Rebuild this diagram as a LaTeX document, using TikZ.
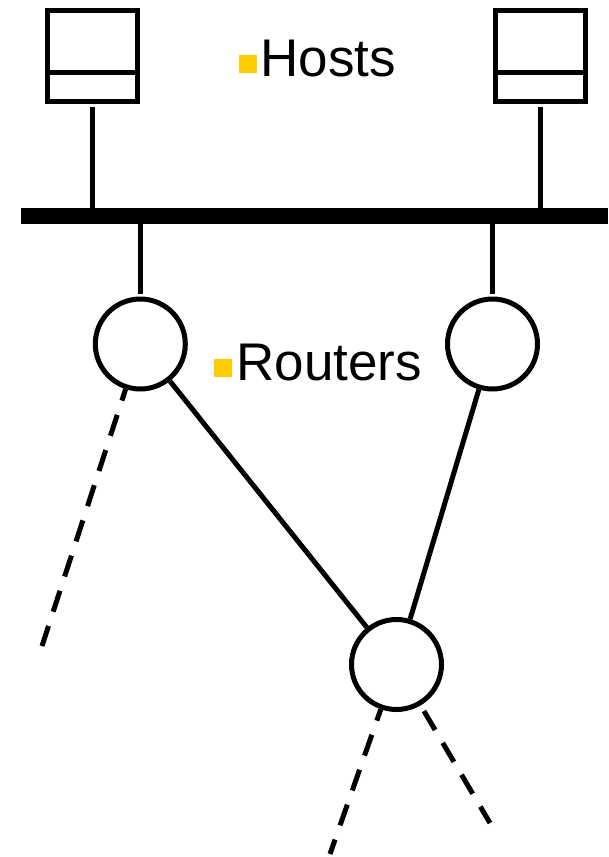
\documentclass[tikz,border=0pt]{standalone}
\usepackage{fontspec}
\setmainfont{Liberation Sans}
\definecolor{bulletyellow}{HTML}{FFCC00}
\begin{document}
\begin{tikzpicture}[x=1pt,y=-1pt,line width=5pt,
  host/.style={draw, minimum width=90pt, minimum height=91pt, inner sep=0pt},
  router/.style={draw, circle, fill=white, minimum size=90pt, inner sep=0pt},
  lan/.style={fill=black, inner sep=0pt, outer sep=0pt, minimum width=587.3pt, minimum height=16pt},
  future/.style={dash pattern=on 22pt off 15pt},
  ybullet/.style={fill=bulletyellow, inner sep=0pt, outer sep=0pt, minimum size=18pt},
  caption/.style={anchor=base west, inner sep=0pt, font=\fontsize{53}{60}\selectfont}]
\useasboundingbox (0,0) rectangle (608,857);
% hosts
\node[host] (hL) at (92.5,56) {};
\draw ([yshift=-16pt]hL.west) -- ([yshift=-16pt]hL.east);
\node[host] (hR) at (540.5,56) {};
\draw ([yshift=-16pt]hR.west) -- ([yshift=-16pt]hR.east);
% bus
\node[lan] (bus) at (314.35,216) {};
\draw[shorten <=3pt] (hL.south) -- (hL.south |- bus.north);
\draw[shorten <=3pt] (hR.south) -- (hR.south |- bus.north);
% routers
\node[router] (rL) at (140.3,344) {};
\node[router] (rR) at (492.5,344) {};
\node[router] (rB) at (396.5,664.5) {};
\draw[shorten >=3pt] (bus.south -| rL.north) -- (rL.north);
\draw[shorten >=3pt] (bus.south -| rR.north) -- (rR.north);
\draw (rL) -- (rB);
\draw (rR) -- (rB);
% dashed links
\coordinate (eL) at (42,646);
\coordinate (eBL) at (330,854);
\coordinate (eBR) at (490,823);
\draw[future, dash phase=10pt] (rL) -- (eL);
\draw[future, dash phase=10pt] (rB) -- (eBL);
\draw[future, dash phase=30.5pt] (rB) -- (eBR);
% labels
\node[ybullet] (bH) at (248,64) {};
\node[caption] (tH) at (258,76) {Hosts};
\node[ybullet] (bR) at (222.5,368) {};
\node[caption] (tR) at (234,380) {Routers};
\end{tikzpicture}
\end{document}
